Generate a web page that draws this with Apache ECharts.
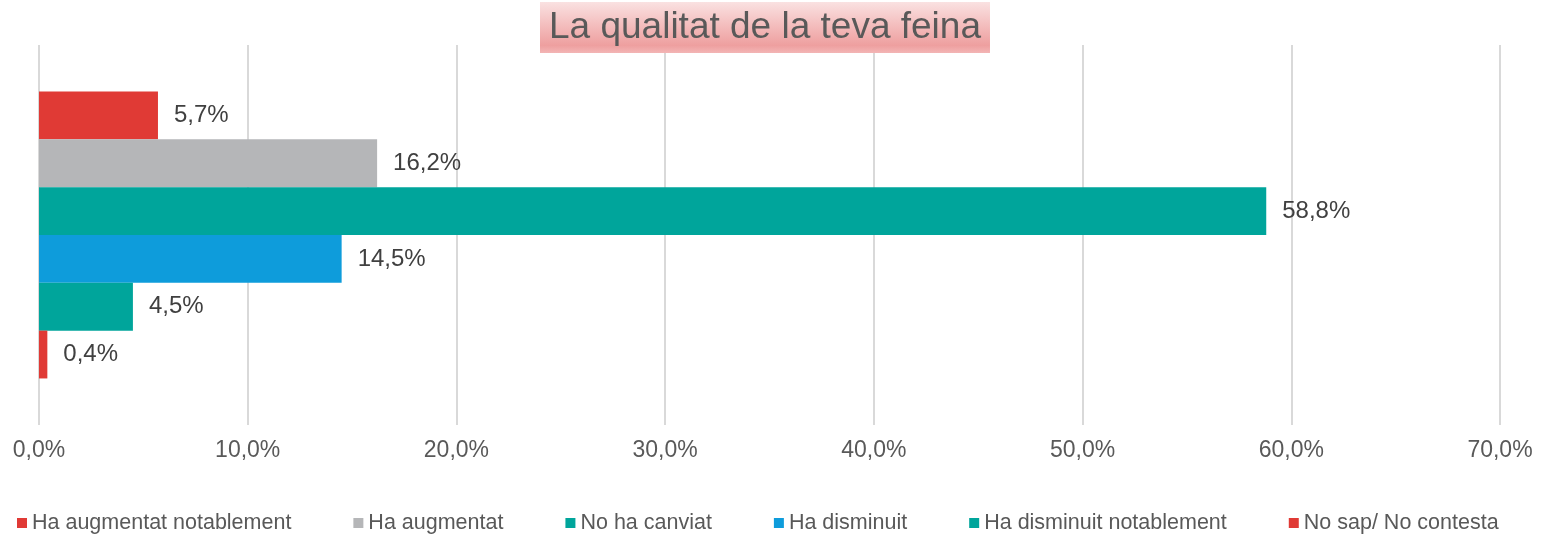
<!DOCTYPE html>
<html lang="ca">
<head>
    <meta charset="UTF-8">
    <title>La qualitat de la teva feina</title>
    <script src="https://cdn.jsdelivr.net/npm/echarts@6/dist/echarts.min.js"></script>
    <style>
        html, body { margin: 0; padding: 0; background: #fff; }
        #chart { width: 1544px; height: 535px; }
    </style>
</head>
<body>
<div id="chart"></div>
<script type="text/javascript">
    // dades llegides del gràfic
    var seriesNames = ['Ha augmentat notablement', 'Ha augmentat', 'No ha canviat', 'Ha disminuit', 'Ha disminuit notablement', 'No sap/ No contesta'];
    var seriesValues = [5.7, 16.2, 58.8, 14.5, 4.5, 0.4];
    var seriesColors = ['#E03A35', '#B5B6B8', '#00A59B', '#0E9CDB', '#00A59B', '#E03A35'];
    var categories = ['La qualitat de la teva feina'];
    var xTicks = [0, 10, 20, 30, 40, 50, 60, 70];

    var FONT = 'Liberation Sans, Arial, sans-serif';

    function pct(v) {
        return v.toFixed(1).replace('.', ',') + '%';
    }

    var series = [];
    for (let i = 0; i < seriesNames.length; i++) {
        series.push({
            name: seriesNames[i],
            type: 'bar',
            data: [seriesValues[i]],
            barGap: '0%',
            barCategoryGap: '24.5%',
            itemStyle: { color: seriesColors[i] },
            label: {
                show: true,
                position: 'right',
                distance: 16,
                color: '#404040',
                fontSize: 24,
                fontFamily: FONT,
                formatter: function (p) { return pct(p.value); }
            }
        });
    }

    var option = {
        animation: false,
        title: {
            text: 'La qualitat de la teva feina',
            left: 540,
            top: 2,
            padding: [7, 9, 7, 9],
            backgroundColor: new echarts.graphic.LinearGradient(0, 0, 0, 1, [
                { offset: 0, color: '#fae1e1' },
                { offset: 0.85, color: '#ee9f9f' },
                { offset: 1, color: '#f3b5b5' }
            ]),
            textStyle: {
                color: '#595959',
                fontSize: 37,
                fontWeight: 'normal',
                fontFamily: FONT
            }
        },
        legend: {
            top: 507,
            left: 12,
            itemWidth: 10,
            itemHeight: 10,
            itemGap: 62,
            icon: 'rect',
            textStyle: {
                color: '#595959',
                fontSize: 21.5,
                fontFamily: FONT
            },
            data: seriesNames
        },
        grid: {
            left: 39,
            right: 44,
            top: 45,
            bottom: 110
        },
        xAxis: {
            type: 'value',
            min: xTicks[0],
            max: xTicks[xTicks.length - 1],
            interval: 10,
            axisLine: { show: false },
            axisTick: { show: false },
            axisLabel: {
                color: '#595959',
                fontSize: 23,
                margin: 14,
                fontFamily: FONT,
                formatter: function (v) { return pct(v); }
            },
            splitLine: { lineStyle: { color: '#d9d9d9', width: 2 } }
        },
        yAxis: {
            type: 'category',
            inverse: true,
            data: categories,
            axisLine: { show: false },
            axisTick: { show: false },
            axisLabel: { show: false }
        },
        series: series
    };

    var myChart = echarts.init(document.getElementById('chart'));
    myChart.setOption(option);
</script>
</body>
</html>
